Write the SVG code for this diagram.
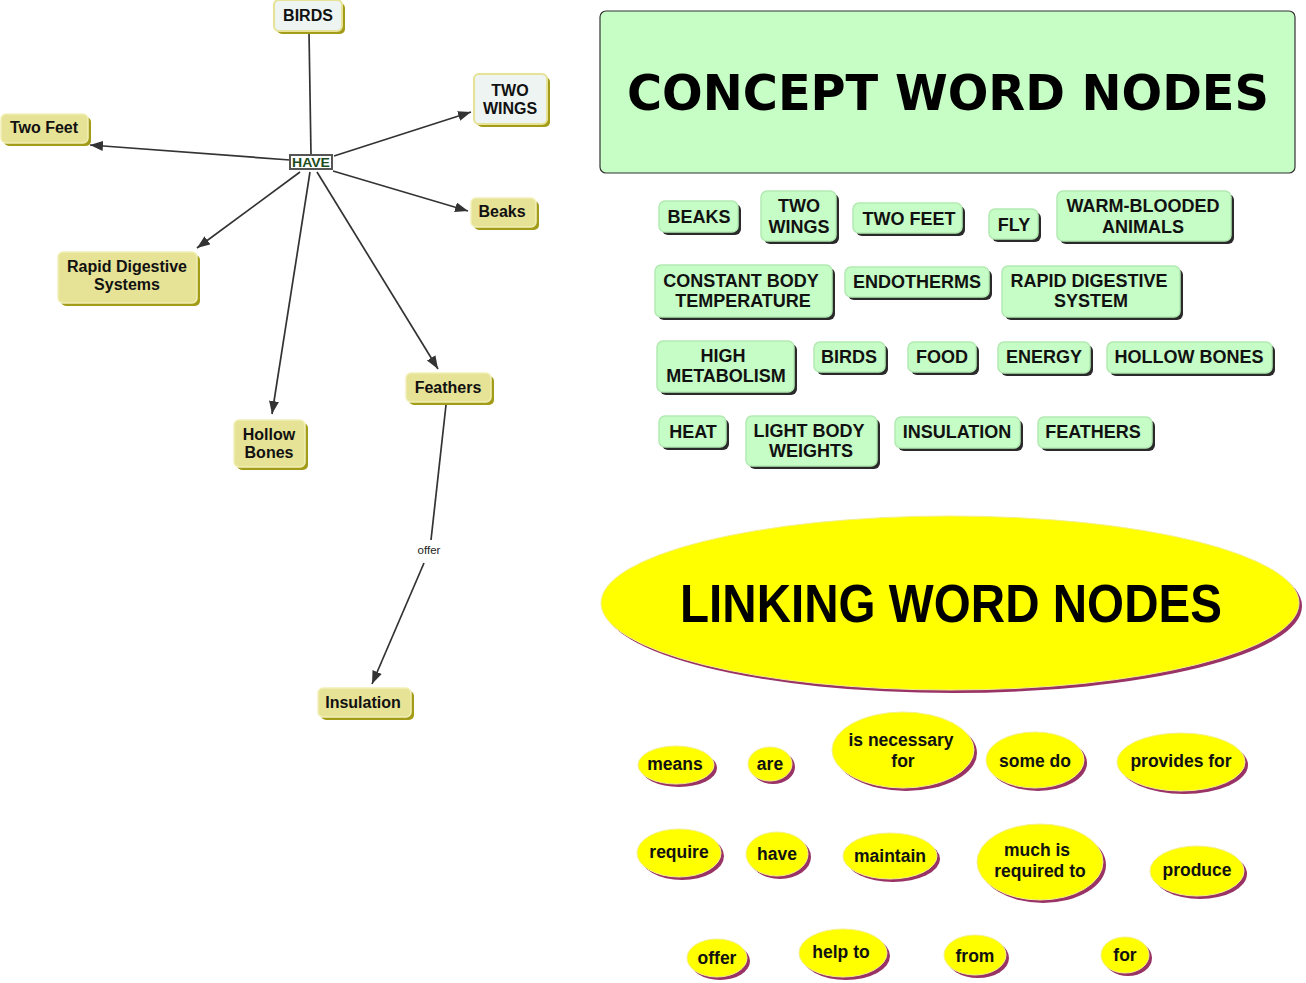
<svg xmlns="http://www.w3.org/2000/svg" width="1306" height="983" viewBox="0 0 1306 983">
<defs>
<marker id="arr" markerWidth="14" markerHeight="11" refX="13" refY="5" orient="auto" markerUnits="userSpaceOnUse">
<path d="M0,0 L13,5 L0,10 z" fill="#333"/>
</marker>
<style>
.lt{font-family:"Liberation Sans",Arial,sans-serif;font-weight:bold;font-size:16px;fill:#111;text-anchor:middle}
.ct{font-family:"Liberation Sans",Arial,sans-serif;font-weight:bold;font-size:18px;fill:#111;text-anchor:middle}
.kt{font-family:"Liberation Sans",Arial,sans-serif;font-weight:bold;font-size:17.5px;fill:#111;text-anchor:middle}
.ysh{fill:#a39c18}
.ybx{fill:#e6e296;stroke:#f2f0b8;stroke-width:1.5}
.wbx{fill:#eef4f2;stroke:#e6e296;stroke-width:2}
.gsh{fill:#2a2a2a}
.gbx{fill:#c6fcc6;stroke:#b2eab2;stroke-width:1.5}
.esh{fill:#993366}
.ebx{fill:#ffff00;stroke:#f4f08a;stroke-width:1}
.con{stroke:#333;stroke-width:1.7;fill:none}
</style>
</defs>
<rect width="1306" height="983" fill="#fff"/>

<g id="connectors">
<line class="con" x1="309" y1="32" x2="311" y2="155"/>
<line class="con" x1="334" y1="156" x2="471" y2="112" marker-end="url(#arr)"/>
<line class="con" x1="290" y1="160" x2="90" y2="145" marker-end="url(#arr)"/>
<line class="con" x1="333" y1="171" x2="468" y2="211" marker-end="url(#arr)"/>
<line class="con" x1="300" y1="172" x2="197" y2="248" marker-end="url(#arr)"/>
<line class="con" x1="310" y1="172" x2="272" y2="414" marker-end="url(#arr)"/>
<line class="con" x1="317" y1="172" x2="438" y2="369" marker-end="url(#arr)"/>
<line class="con" x1="446" y1="405" x2="431" y2="540"/>
<line class="con" x1="424" y1="563" x2="372" y2="684" marker-end="url(#arr)"/>
<text x="429" y="554" font-family="Liberation Sans,Arial,sans-serif" font-size="11.5" fill="#222" text-anchor="middle">offer</text>
</g>

<g id="n-birds"><rect class="ysh" x="277" y="3" width="68" height="31" rx="5"/><rect class="wbx" x="274" y="0" width="68" height="31" rx="5"/><text class="lt" x="308" y="21">BIRDS</text></g>
<g id="n-twowings"><rect class="ysh" x="477" y="77" width="73" height="50" rx="5"/><rect class="wbx" x="474" y="74" width="73" height="50" rx="5"/><text class="lt" x="510" y="96">TWO</text><text class="lt" x="510" y="114">WINGS</text></g>
<g id="n-twofeet"><rect class="ysh" x="4" y="117" width="87" height="29" rx="5"/><rect class="ybx" x="1" y="114" width="87" height="29" rx="5"/><text class="lt" x="44" y="133">Two Feet</text></g>
<g id="n-have"><rect x="290" y="155" width="42" height="14" fill="#fff" stroke="#555" stroke-width="2"/><text x="311" y="167" font-family="Liberation Sans,Arial,sans-serif" font-weight="bold" font-size="13" fill="#1d4d1d" text-anchor="middle" textLength="38" lengthAdjust="spacingAndGlyphs">HAVE</text></g>
<g id="n-beaks"><rect class="ysh" x="474" y="201" width="65" height="29" rx="5"/><rect class="ybx" x="471" y="198" width="65" height="29" rx="5"/><text class="lt" x="502" y="217">Beaks</text></g>
<g id="n-rapid"><rect class="ysh" x="61" y="255" width="139" height="51" rx="5"/><rect class="ybx" x="58" y="252" width="139" height="51" rx="5"/><text class="lt" x="127" y="272">Rapid Digestive</text><text class="lt" x="127" y="290">Systems</text></g>
<g id="n-feathers"><rect class="ysh" x="409" y="376" width="85" height="29" rx="5"/><rect class="ybx" x="406" y="373" width="85" height="29" rx="5"/><text class="lt" x="448" y="393">Feathers</text></g>
<g id="n-hollow"><rect class="ysh" x="237" y="423" width="71" height="47" rx="5"/><rect class="ybx" x="234" y="420" width="71" height="47" rx="5"/><text class="lt" x="269" y="440">Hollow</text><text class="lt" x="269" y="458">Bones</text></g>
<g id="n-insulation"><rect class="ysh" x="321" y="691" width="93" height="29" rx="5"/><rect class="ybx" x="318" y="688" width="93" height="29" rx="5"/><text class="lt" x="363" y="708">Insulation</text></g>

<g id="concept-title"><rect x="600" y="11" width="695" height="162" rx="6" fill="#c6fec6" stroke="#333" stroke-width="1.2"/><text x="948" y="110" font-family="DejaVu Sans,Verdana,sans-serif" font-weight="bold" font-size="50" fill="#000" text-anchor="middle" textLength="642" lengthAdjust="spacingAndGlyphs">CONCEPT WORD NODES</text></g>

<g id="c-beaks"><rect class="gsh" x="662" y="204" width="79" height="31" rx="6"/><rect class="gbx" x="659" y="201" width="79" height="31" rx="6"/><text class="ct" x="699" y="223">BEAKS</text></g>
<g id="c-twowings"><rect class="gsh" x="764" y="194" width="75" height="50" rx="6"/><rect class="gbx" x="761" y="191" width="75" height="50" rx="6"/><text class="ct" x="799" y="212">TWO</text><text class="ct" x="799" y="233">WINGS</text></g>
<g id="c-twofeet"><rect class="gsh" x="856" y="206" width="109" height="30" rx="6"/><rect class="gbx" x="853" y="203" width="109" height="30" rx="6"/><text class="ct" x="909" y="225">TWO FEET</text></g>
<g id="c-fly"><rect class="gsh" x="992" y="212" width="49" height="30" rx="6"/><rect class="gbx" x="989" y="209" width="49" height="30" rx="6"/><text class="ct" x="1014" y="231">FLY</text></g>
<g id="c-warm"><rect class="gsh" x="1060" y="194" width="174" height="50" rx="6"/><rect class="gbx" x="1057" y="191" width="174" height="50" rx="6"/><text class="ct" x="1143" y="212">WARM-BLOODED</text><text class="ct" x="1143" y="233">ANIMALS</text></g>

<g id="c-constant"><rect class="gsh" x="658" y="268" width="177" height="52" rx="6"/><rect class="gbx" x="655" y="265" width="177" height="52" rx="6"/><text class="ct" x="741" y="287">CONSTANT BODY</text><text class="ct" x="743" y="307">TEMPERATURE</text></g>
<g id="c-endotherms"><rect class="gsh" x="848" y="270" width="144" height="30" rx="6"/><rect class="gbx" x="845" y="267" width="144" height="30" rx="6"/><text class="ct" x="917" y="288">ENDOTHERMS</text></g>
<g id="c-rapid"><rect class="gsh" x="1005" y="269" width="178" height="51" rx="6"/><rect class="gbx" x="1002" y="266" width="178" height="51" rx="6"/><text class="ct" x="1089" y="287">RAPID DIGESTIVE</text><text class="ct" x="1091" y="307">SYSTEM</text></g>

<g id="c-high"><rect class="gsh" x="660" y="344" width="137" height="51" rx="6"/><rect class="gbx" x="657" y="341" width="137" height="51" rx="6"/><text class="ct" x="723" y="362">HIGH</text><text class="ct" x="726" y="382">METABOLISM</text></g>
<g id="c-birds"><rect class="gsh" x="817" y="345" width="71" height="30" rx="6"/><rect class="gbx" x="814" y="342" width="71" height="30" rx="6"/><text class="ct" x="849" y="363">BIRDS</text></g>
<g id="c-food"><rect class="gsh" x="911" y="345" width="68" height="30" rx="6"/><rect class="gbx" x="908" y="342" width="68" height="30" rx="6"/><text class="ct" x="942" y="363">FOOD</text></g>
<g id="c-energy"><rect class="gsh" x="1001" y="345" width="92" height="31" rx="6"/><rect class="gbx" x="998" y="342" width="92" height="31" rx="6"/><text class="ct" x="1044" y="363">ENERGY</text></g>
<g id="c-hollow"><rect class="gsh" x="1110" y="345" width="165" height="31" rx="6"/><rect class="gbx" x="1107" y="342" width="165" height="31" rx="6"/><text class="ct" x="1189" y="363">HOLLOW BONES</text></g>

<g id="c-heat"><rect class="gsh" x="662" y="419" width="67" height="31" rx="6"/><rect class="gbx" x="659" y="416" width="67" height="31" rx="6"/><text class="ct" x="693" y="438">HEAT</text></g>
<g id="c-light"><rect class="gsh" x="749" y="419" width="131" height="50" rx="6"/><rect class="gbx" x="746" y="416" width="131" height="50" rx="6"/><text class="ct" x="809" y="437">LIGHT BODY</text><text class="ct" x="811" y="457">WEIGHTS</text></g>
<g id="c-insulation"><rect class="gsh" x="898" y="420" width="125" height="31" rx="6"/><rect class="gbx" x="895" y="417" width="125" height="31" rx="6"/><text class="ct" x="957" y="438">INSULATION</text></g>
<g id="c-feathers"><rect class="gsh" x="1041" y="420" width="114" height="31" rx="6"/><rect class="gbx" x="1038" y="417" width="114" height="31" rx="6"/><text class="ct" x="1093" y="438">FEATHERS</text></g>

<g id="linking-title"><ellipse class="esh" cx="953" cy="606" rx="349" ry="87"/><ellipse class="ebx" cx="950" cy="603" rx="349" ry="87"/><text x="951" y="622" font-family="Liberation Sans,Arial,sans-serif" font-weight="bold" font-size="54" fill="#000" text-anchor="middle" textLength="542" lengthAdjust="spacingAndGlyphs">LINKING WORD NODES</text></g>

<g id="l-means"><ellipse class="esh" cx="679" cy="768" rx="38" ry="19"/><ellipse class="ebx" cx="676" cy="765" rx="38" ry="19"/><text class="kt" x="675" y="770">means</text></g>
<g id="l-are"><ellipse class="esh" cx="773" cy="767" rx="22" ry="17"/><ellipse class="ebx" cx="770" cy="764" rx="22" ry="17"/><text class="kt" x="770" y="770">are</text></g>
<g id="l-isnec"><ellipse class="esh" cx="906" cy="753" rx="71" ry="38"/><ellipse class="ebx" cx="903" cy="750" rx="71" ry="38"/><text class="kt" x="901" y="746">is necessary</text><text class="kt" x="903" y="767">for</text></g>
<g id="l-somedo"><ellipse class="esh" cx="1038" cy="763" rx="49" ry="28"/><ellipse class="ebx" cx="1035" cy="760" rx="49" ry="28"/><text class="kt" x="1035" y="767">some do</text></g>
<g id="l-provides"><ellipse class="esh" cx="1184" cy="765" rx="64" ry="29"/><ellipse class="ebx" cx="1181" cy="762" rx="64" ry="29"/><text class="kt" x="1181" y="767">provides for</text></g>

<g id="l-require"><ellipse class="esh" cx="682" cy="856" rx="42" ry="24"/><ellipse class="ebx" cx="679" cy="853" rx="42" ry="24"/><text class="kt" x="679" y="858">require</text></g>
<g id="l-have"><ellipse class="esh" cx="780" cy="857" rx="31" ry="22"/><ellipse class="ebx" cx="777" cy="854" rx="31" ry="22"/><text class="kt" x="777" y="860">have</text></g>
<g id="l-maintain"><ellipse class="esh" cx="893" cy="859" rx="47" ry="23"/><ellipse class="ebx" cx="890" cy="856" rx="47" ry="23"/><text class="kt" x="890" y="862">maintain</text></g>
<g id="l-much"><ellipse class="esh" cx="1043" cy="865" rx="63" ry="38"/><ellipse class="ebx" cx="1040" cy="862" rx="63" ry="38"/><text class="kt" x="1037" y="856">much is</text><text class="kt" x="1040" y="877">required to</text></g>
<g id="l-produce"><ellipse class="esh" cx="1200" cy="874" rx="47" ry="25"/><ellipse class="ebx" cx="1197" cy="871" rx="47" ry="25"/><text class="kt" x="1197" y="876">produce</text></g>

<g id="l-offer"><ellipse class="esh" cx="720" cy="961" rx="30" ry="19"/><ellipse class="ebx" cx="717" cy="958" rx="30" ry="19"/><text class="kt" x="717" y="964">offer</text></g>
<g id="l-helpto"><ellipse class="esh" cx="846" cy="956" rx="44" ry="24"/><ellipse class="ebx" cx="843" cy="953" rx="44" ry="24"/><text class="kt" x="841" y="958">help to</text></g>
<g id="l-from"><ellipse class="esh" cx="978" cy="958" rx="31" ry="20"/><ellipse class="ebx" cx="975" cy="955" rx="31" ry="20"/><text class="kt" x="975" y="962">from</text></g>
<g id="l-for"><ellipse class="esh" cx="1128" cy="958" rx="24" ry="18"/><ellipse class="ebx" cx="1125" cy="955" rx="24" ry="18"/><text class="kt" x="1125" y="961">for</text></g>
</svg>
